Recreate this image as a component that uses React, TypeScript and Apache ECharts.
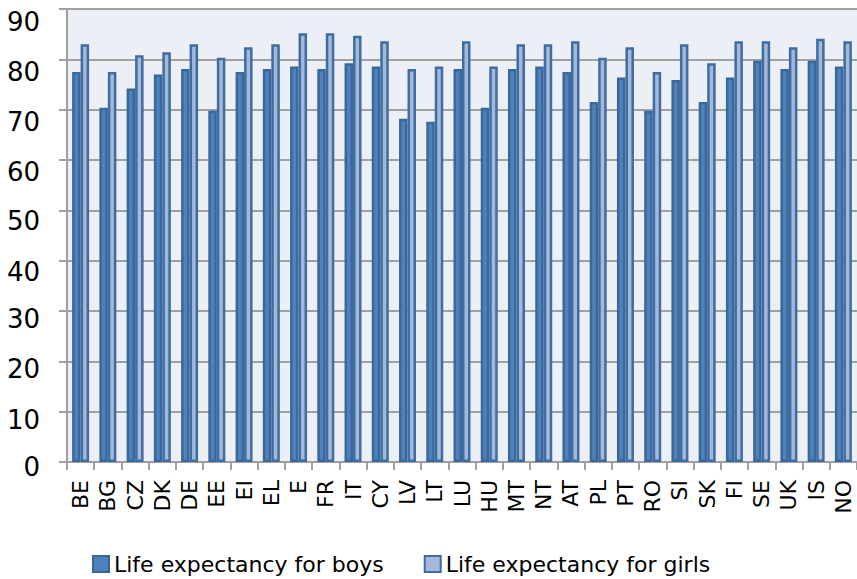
import React, { useEffect, useRef } from "react";
import * as echarts from "echarts";

const categories = ["BE","BG","CZ","DK","DE","EE","EI","EL","E","FR","IT","CY","LV","LT","LU","HU","MT","NT","AT","PL","PT","RO","SI","SK","FI","SE","UK","IS","NO"];
const boys = [77.5,70.4,74.2,77.0,78.1,69.8,77.5,78.1,78.6,78.1,79.2,78.6,68.2,67.6,78.1,70.4,78.1,78.6,77.5,71.5,76.4,69.8,75.9,71.5,76.4,79.7,78.1,79.7,78.6];
const girls = [83.0,77.5,80.8,81.4,83.0,80.3,82.4,83.0,85.2,85.2,84.7,83.6,78.1,78.6,83.6,78.6,83.0,83.0,83.6,80.3,82.4,77.5,83.0,79.2,83.6,83.6,82.4,84.1,83.6];
const seriesNames = ["Life expectancy for boys", "Life expectancy for girls"];
const yTicks = [0, 10, 20, 30, 40, 50, 60, 70, 80, 90];
const yLabelShift = [5, 8, 8, 8, 11, 11, 12, 12, 13, 13];

const FONT = "'DejaVu Sans', sans-serif";

export default function App() {
  const ref = useRef<HTMLDivElement>(null);
  useEffect(() => {
    if (!ref.current) return;
    const chart = echarts.init(ref.current, null, { renderer: "svg" });
    const rich: Record<string, any> = {};
    yTicks.forEach((t, i) => {
      rich["y" + t] = { fontSize: 26, color: "#000", fontFamily: FONT, padding: [yLabelShift[i] * 2, 0, 0, 0] };
    });
    chart.setOption({
      animation: false,
      textStyle: { fontFamily: FONT },
      grid: {
        left: 67, right: 0, top: 9, bottom: 117,
        show: true, backgroundColor: "#ECEFF5", borderWidth: 0,
      },
      legend: {
        left: 87, top: 548,
        icon: "rect", itemWidth: 16, itemHeight: 16, itemGap: 40,
        textStyle: { fontSize: 22, color: "#000", fontFamily: FONT },
        data: seriesNames,
      },
      xAxis: {
        type: "category",
        data: categories,
        axisLine: { show: true, lineStyle: { color: "#A0A0A0", width: 2 } },
        axisTick: { show: true, length: 8, lineStyle: { color: "#A0A0A0", width: 2 } },
        axisLabel: { interval: 0, rotate: 90, fontSize: 22, color: "#000", margin: 18, fontFamily: FONT },
      },
      yAxis: {
        type: "value",
        min: 0, max: 90, interval: 10,
        axisLine: { show: true, lineStyle: { color: "#A0A0A0", width: 2 } },
        axisTick: { show: true, length: 8, lineStyle: { color: "#A0A0A0", width: 2 } },
        axisLabel: {
          fontSize: 26, color: "#000", margin: 27, fontFamily: FONT,
          formatter: (v: number) => `{y${v}|${v}}`,
          rich,
        },
        splitLine: { show: true, lineStyle: { color: "#A0A0A0", width: 2 } },
      },
      series: [
        {
          name: seriesNames[0], type: "bar", data: boys, barWidth: 8.5, barGap: "0%",
          itemStyle: { color: "#4F81BD", borderColor: "#3A6899", borderWidth: 2.5 },
        },
        {
          name: seriesNames[1], type: "bar", data: girls, barWidth: 8.5,
          itemStyle: { color: "#A5B8DA", borderColor: "#3D6DA2", borderWidth: 2.5 },
        },
      ],
    });
    return () => chart.dispose();
  }, []);
  return <div ref={ref} style={{ width: 857, height: 579, position: "absolute", left: 0, top: 0 }} />;
}
